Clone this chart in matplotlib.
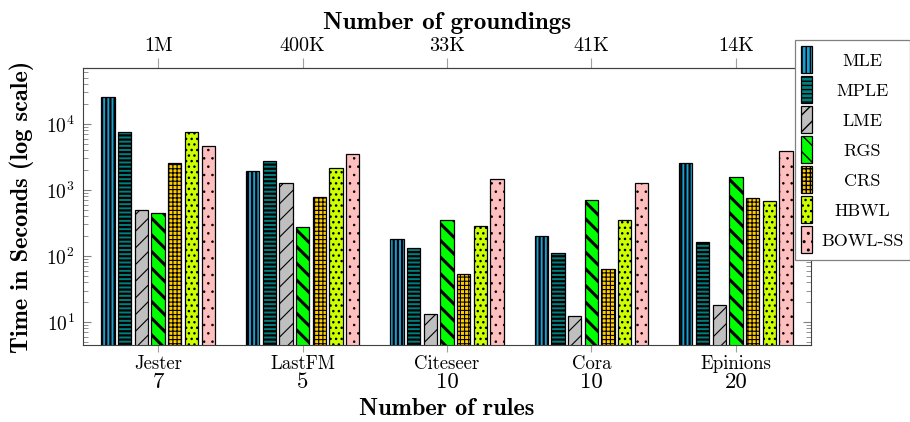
import numpy as np
import matplotlib
matplotlib.use("Agg")
import matplotlib.pyplot as plt
import matplotlib.transforms as mtrans
from matplotlib.ticker import LogLocator, NullFormatter

datasets = ["Jester", "LastFM", "Citeseer", "Cora", "Epinions"]
num_rules = ["7", "5", "10", "10", "20"]
groundings = ["1M", "400K", "33K", "41K", "14K"]
methods = ["MLE", "MPLE", "LME", "RGS", "CRS", "HBWL", "BOWL-SS"]

mle = [25500, 1910, 178, 200, 2530]
mple = [7400, 2700, 130, 112, 164]
lme = [500, 1260, 13.2, 12.3, 18]
rgs = [450, 277, 355, 707, 1570]
crs = [2600, 790, 53, 63, 760]
hbwl = [7400, 2120, 285, 345, 690]
bowl = [4550, 3500, 1470, 1290, 3900]
series = [mle, mple, lme, rgs, crs, hbwl, bowl]

colors = ["#1a9fd0", "#007f7f", "#bfbfbf", "#00ff00", "#ffcc00", "#ccff00", "#ffbfbf"]
hatches = ["||||", "----", "//", "\\\\", "++++", "...", ".."]
hatch_lws = [1.6, 1.6, 0.8, 2.2, 0.8, 1.0, 0.6]

plt.rcParams["mathtext.fontset"] = "cm"
plt.rcParams["font.family"] = ["cmr10", "DejaVu Serif"]
plt.rcParams["axes.formatter.use_mathtext"] = True

fig = plt.figure(figsize=(9.1, 4.22), dpi=100)
ax = fig.add_axes([83/910, 1-345/422, (811-83)/910, (345-68)/422])

x = np.arange(len(datasets))
width = 0.092
pitch = 0.1155
for i, (vals, c, h, hl, name) in enumerate(zip(series, colors, hatches, hatch_lws, methods)):
    bars = ax.bar(x + (i - 3) * pitch, vals, width, color=c, edgecolor="black",
                  linewidth=0.9, hatch=h, label=name, zorder=2)
    for b in bars:
        try:
            b.set_hatch_linewidth(hl)
        except Exception:
            pass

ax.set_yscale("log")
ax.set_ylim(4.5, 70000)
ax.set_xlim(-0.52, 4.52)
ax.yaxis.set_major_locator(LogLocator(base=10, numticks=10))
ax.yaxis.set_minor_locator(LogLocator(base=10, subs=np.arange(2, 10), numticks=20))
ax.yaxis.set_minor_formatter(NullFormatter())
ax.tick_params(axis="y", which="major", direction="in", length=6, color="#808080",
               labelsize=14, right=True, pad=6)
ax.tick_params(axis="y", which="minor", direction="in", length=3.5, color="#808080", right=True)
ax.set_xticks(x)
ax.set_xticklabels(datasets, fontsize=13.5)
ax.tick_params(axis="x", direction="out", length=5, color="#a0a0a0", pad=2)
for s in ax.spines.values():
    s.set_color("#404040")

trans = mtrans.blended_transform_factory(ax.transData, ax.transAxes)
for xi, r in zip(x, num_rules):
    ax.text(xi, -0.1, r, transform=trans, ha="center", va="top", fontsize=16.5)

ax.set_xlabel("Number of rules", fontsize=17.5, family="cmb10")
ax.xaxis.set_label_coords(0.5, -0.19)
ax.set_ylabel("Time in Seconds (log scale)", fontsize=17.5, family="cmb10")
ax.yaxis.set_label_coords(-0.067, 0.5)

sec = ax.secondary_xaxis("top")
sec.set_xticks(x)
sec.set_xticklabels(groundings, fontsize=14.5)
sec.tick_params(axis="x", direction="out", length=7, color="#a0a0a0", pad=2)
sec.set_xlabel("Number of groundings", fontsize=18, family="cmb10", labelpad=6)
sec.spines["top"].set_color("#404040")

leg = ax.legend(loc="upper left", bbox_to_anchor=(795/910, 1-40/422),
                bbox_transform=fig.transFigure, fontsize=13, handlelength=0.6,
                handleheight=1.92, labelspacing=0.17, handletextpad=0.5,
                borderpad=0.35, fancybox=False, edgecolor="#808080",
                framealpha=1, borderaxespad=0)
leg.get_frame().set_linewidth(0.9)

fig.canvas.draw()
texts = leg.get_texts()
widths = [t.get_window_extent().width for t in texts]
wmax = max(widths)
for t, w in zip(texts, widths):
    t.set_x((wmax - w) / 2)

fig.savefig("out.png", dpi=100)
